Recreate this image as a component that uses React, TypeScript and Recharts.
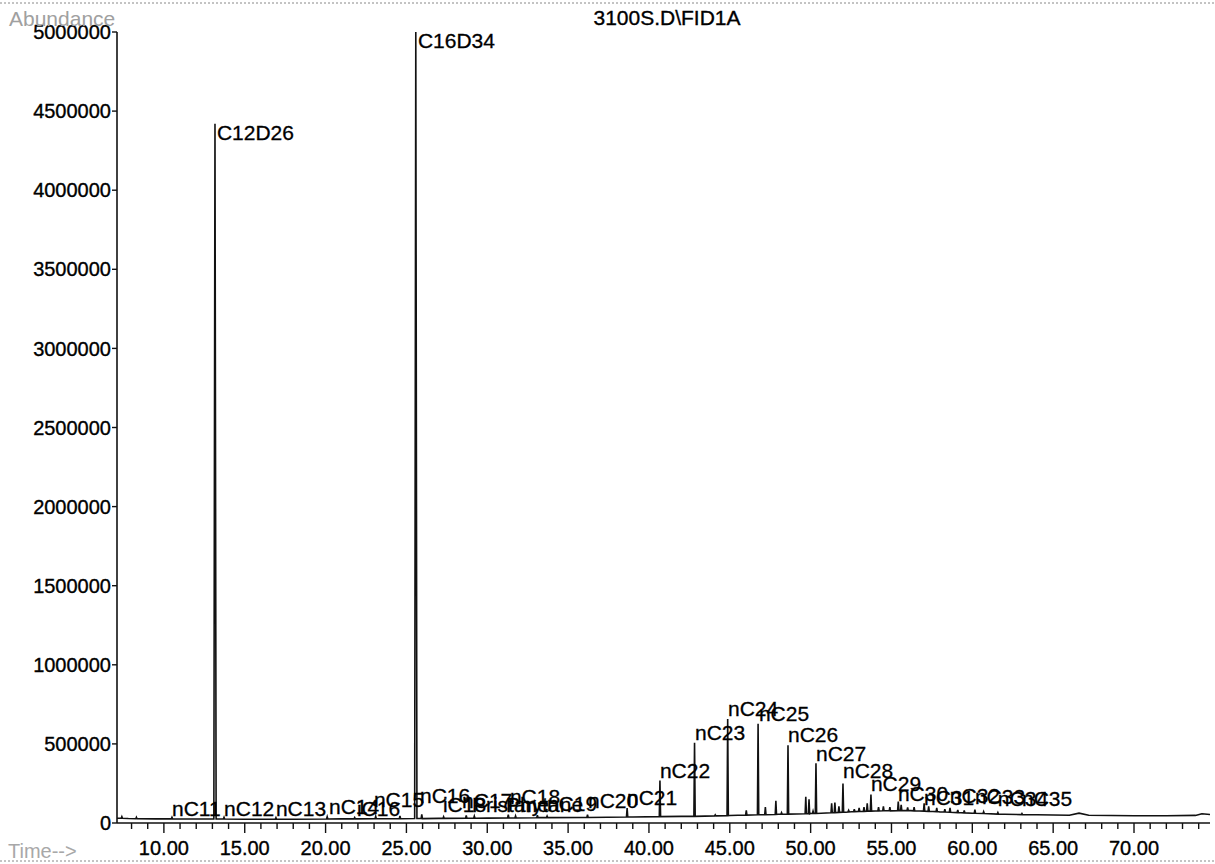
import React from 'react';
import { ComposedChart, Line, Scatter, XAxis, YAxis } from 'recharts';

const FONT = '"Liberation Sans", Arial, Helvetica, sans-serif';

// Baseline (unresolved hump) of the chromatogram: [time (min), abundance]
const baselineKnots: [number, number][] = [
  [7.1, 30000], [7.8, 28000], [9.5, 26000], [12.0, 25000], [15.0, 24000], [18.0, 24000],
  [21.0, 26000], [24.0, 27000], [27.0, 29000], [30.0, 31000], [33.0, 33000], [36.0, 35000],
  [39.0, 38000], [42.0, 42000], [45.0, 47000], [48.0, 55000], [50.0, 60000], [52.18, 68000],
  [54.0, 76000], [56.2, 78000], [58.0, 70000], [60.0, 62000], [62.0, 55000], [64.0, 52000],
  [66.0, 49000], [66.6, 62000], [67.2, 49000], [70.0, 46000], [72.0, 46000], [73.8, 48000],
  [74.2, 58000], [74.7, 54000],
];

// Peaks: [retention time (min), apex abundance, foot abundance]
const peaks: [number, number, number][] = [
  [7.4, 40000, 30000], [8.3, 36000, 27000], [10.5, 36000, 26000],
  [13.16, 4420000, 25000], [13.72, 36000, 25000], [16.93, 34000, 24000],
  [20.1, 40000, 25000], [21.8, 34000, 26000], [23.1, 42000, 27000], [24.6, 45000, 27000],
  [25.58, 5000000, 28000], [25.95, 55000, 28000], [27.3, 40000, 29000],
  [28.7, 48000, 30000], [29.2, 44000, 30000], [31.3, 52000, 32000], [31.75, 45000, 32000],
  [33.1, 50000, 34000], [33.7, 44000, 34000], [36.2, 52000, 35000], [38.65, 95000, 38000],
  [40.68, 268000, 40000], [42.82, 508000, 42000], [44.1, 52000, 45000], [44.87, 658000, 46000],
  [46.02, 80000, 50000], [46.75, 628000, 52000], [47.2, 100000, 52000], [47.85, 140000, 54000],
  [48.2, 65000, 55000], [48.6, 492000, 56000], [49.7, 165000, 58000], [49.9, 150000, 58000],
  [50.15, 75000, 60000], [50.33, 378000, 60000], [51.3, 125000, 65000], [51.5, 130000, 66000],
  [51.75, 105000, 67000], [52.0, 250000, 68000], [52.35, 80000, 70000], [52.7, 88000, 72000],
  [53.0, 95000, 73000], [53.3, 100000, 74000], [53.5, 125000, 75000], [53.73, 180000, 75000],
  [54.2, 100000, 76000], [54.5, 105000, 77000], [54.9, 100000, 77000], [55.42, 135000, 78000],
  [55.6, 115000, 78000], [56.0, 98000, 78000], [56.4, 100000, 77000], [57.02, 125000, 75000],
  [57.3, 105000, 74000], [57.8, 95000, 72000], [58.3, 88000, 70000], [58.62, 95000, 68000],
  [59.1, 82000, 66000], [59.5, 80000, 64000], [60.16, 84000, 62000], [60.7, 72000, 60000],
  [61.58, 66000, 56000], [63.07, 60000, 53000],
];

// Peak annotations
const labelNames = [
  'nC11', 'C12D26', 'nC12', 'nC13', 'nC14', 'iC16', 'nC15', 'C16D34', 'nC16', 'iC18',
  'nC17', 'Pristane', 'nC18', 'Phytane', 'nC19', 'nC20', 'nC21', 'nC22', 'nC23', 'nC24',
  'nC25', 'nC26', 'nC27', 'nC28', 'nC29', 'nC30', 'nC31', 'nC32', 'nC33', 'nC34', 'nC35',
];
const labelTimes = [
  10.5, 13.28, 13.72, 16.93, 20.21, 21.94, 22.99, 25.71, 25.84, 27.26,
  28.44, 29.05, 31.4, 31.16, 33.69, 36.23, 38.64, 40.68, 42.85, 44.89,
  46.8, 48.6, 50.33, 52.0, 53.73, 55.4, 57.01, 58.61, 60.16, 61.58, 63.07,
];
const labelLevels = [
  44000, 4317000, 44000, 44000, 57000, 44000, 101000, 4899000, 126000, 70000,
  95000, 70000, 120000, 70000, 76000, 95000, 114000, 284000, 525000, 676000,
  645000, 512000, 392000, 284000, 202000, 139000, 114000, 126000, 120000, 107000, 107000,
];

const yTicks = [0, 500000, 1000000, 1500000, 2000000, 2500000, 3000000, 3500000, 4000000, 4500000, 5000000];
const majorTicks = [10, 15, 20, 25, 30, 35, 40, 45, 50, 55, 60, 65, 70];
const xTicks: number[] = [];
for (let m = 8; m <= 74; m++) xTicks.push(m);

function buildTrace() {
  const pts: { t: number; v: number }[] = [];
  const half = (apex: number) => (apex > 1000000 ? 0.07 : 0.04);
  for (const [t, v] of baselineKnots) {
    if (peaks.some(([pt, apex]) => Math.abs(pt - t) <= half(apex) * 1.5)) continue;
    pts.push({ t, v });
  }
  for (const [pt, apex, foot] of peaks) {
    const w = half(apex);
    pts.push({ t: pt - w, v: foot }, { t: pt, v: apex }, { t: pt + w, v: foot });
  }
  pts.sort((a, b) => a.t - b.t);
  return pts;
}

const trace = buildTrace();
const labelRows = labelNames.map((name, i) => ({ t: labelTimes[i], v: labelLevels[i], name }));

const XTick = (props: any) => {
  const { x, y, payload } = props;
  const v = payload.value as number;
  const major = majorTicks.includes(v);
  return (
    <g>
      <line x1={x} x2={x} y1={y} y2={y + (major ? 10 : 6)} stroke="#111" strokeWidth={1.4} />
      {major ? (
        <text x={x} y={y + 32} textAnchor="middle" fontSize={20} fontFamily={FONT} fill="#000" stroke="#000" strokeWidth={0.35}>
          {v.toFixed(2)}
        </text>
      ) : null}
    </g>
  );
};

const LabelShape = (props: any) => {
  const { cx, cy, payload } = props;
  return (
    <text x={cx} y={cy} fontSize={21} fontFamily={FONT} fill="#000" stroke="#000" strokeWidth={0.3}>
      {payload.name}
    </text>
  );
};

export default function App() {
  return (
    <div style={{ position: 'absolute', left: 0, top: 0, width: 1215, height: 864, background: '#fff', overflow: 'hidden' }}>
      <ComposedChart width={1215} height={864} margin={{ top: 32, right: 5, bottom: 0, left: 0 }}>
        <XAxis
          type="number"
          dataKey="t"
          domain={[7.1, 74.7]}
          allowDataOverflow
          ticks={xTicks}
          interval={0}
          tickSize={0}
          tickMargin={0}
          tickLine={false}
          height={41}
          axisLine={{ stroke: '#111', strokeWidth: 1.6 }}
          tick={(p: any) => <XTick {...p} />}
        />
        <YAxis
          type="number"
          dataKey="v"
          domain={[0, 5000000]}
          allowDataOverflow
          ticks={yTicks}
          interval={0}
          width={117}
          tickSize={5}
          tickMargin={1}
          tickLine={{ stroke: '#111', strokeWidth: 1.4 }}
          axisLine={{ stroke: '#111', strokeWidth: 1.6 }}
          tick={{ fontSize: 20, fill: '#000', fontFamily: FONT, stroke: '#000', strokeWidth: 0.35 }}
          tickFormatter={(v: number) => String(v)}
        />
        <Line
          data={trace}
          dataKey="v"
          type="linear"
          dot={false}
          activeDot={false}
          stroke="#111"
          strokeWidth={1.6}
          isAnimationActive={false}
        />
        <Scatter data={labelRows} dataKey="v" isAnimationActive={false} shape={LabelShape} />
      </ComposedChart>
      <svg width={1215} height={864} style={{ position: 'absolute', left: 0, top: 0, pointerEvents: 'none' }}>
        <line x1={0} x2={1215} y1={3} y2={3} stroke="#888" strokeWidth={1} strokeDasharray="2 2" />
        <line x1={0} x2={1215} y1={861} y2={861} stroke="#888" strokeWidth={1} strokeDasharray="2 2" />
        <text x={667} y={25} textAnchor="middle" fontSize={21} fontFamily={FONT} fill="#000" stroke="#000" strokeWidth={0.35}>
          3100S.D\FID1A
        </text>
        <text x={9} y={26} fontSize={21} fontFamily={FONT} fill="#a0a0a0">
          Abundance
        </text>
        <text x={8} y={858} fontSize={20} fontFamily={FONT} fill="#a8a8a8">
          Time--&gt;
        </text>
      </svg>
    </div>
  );
}
